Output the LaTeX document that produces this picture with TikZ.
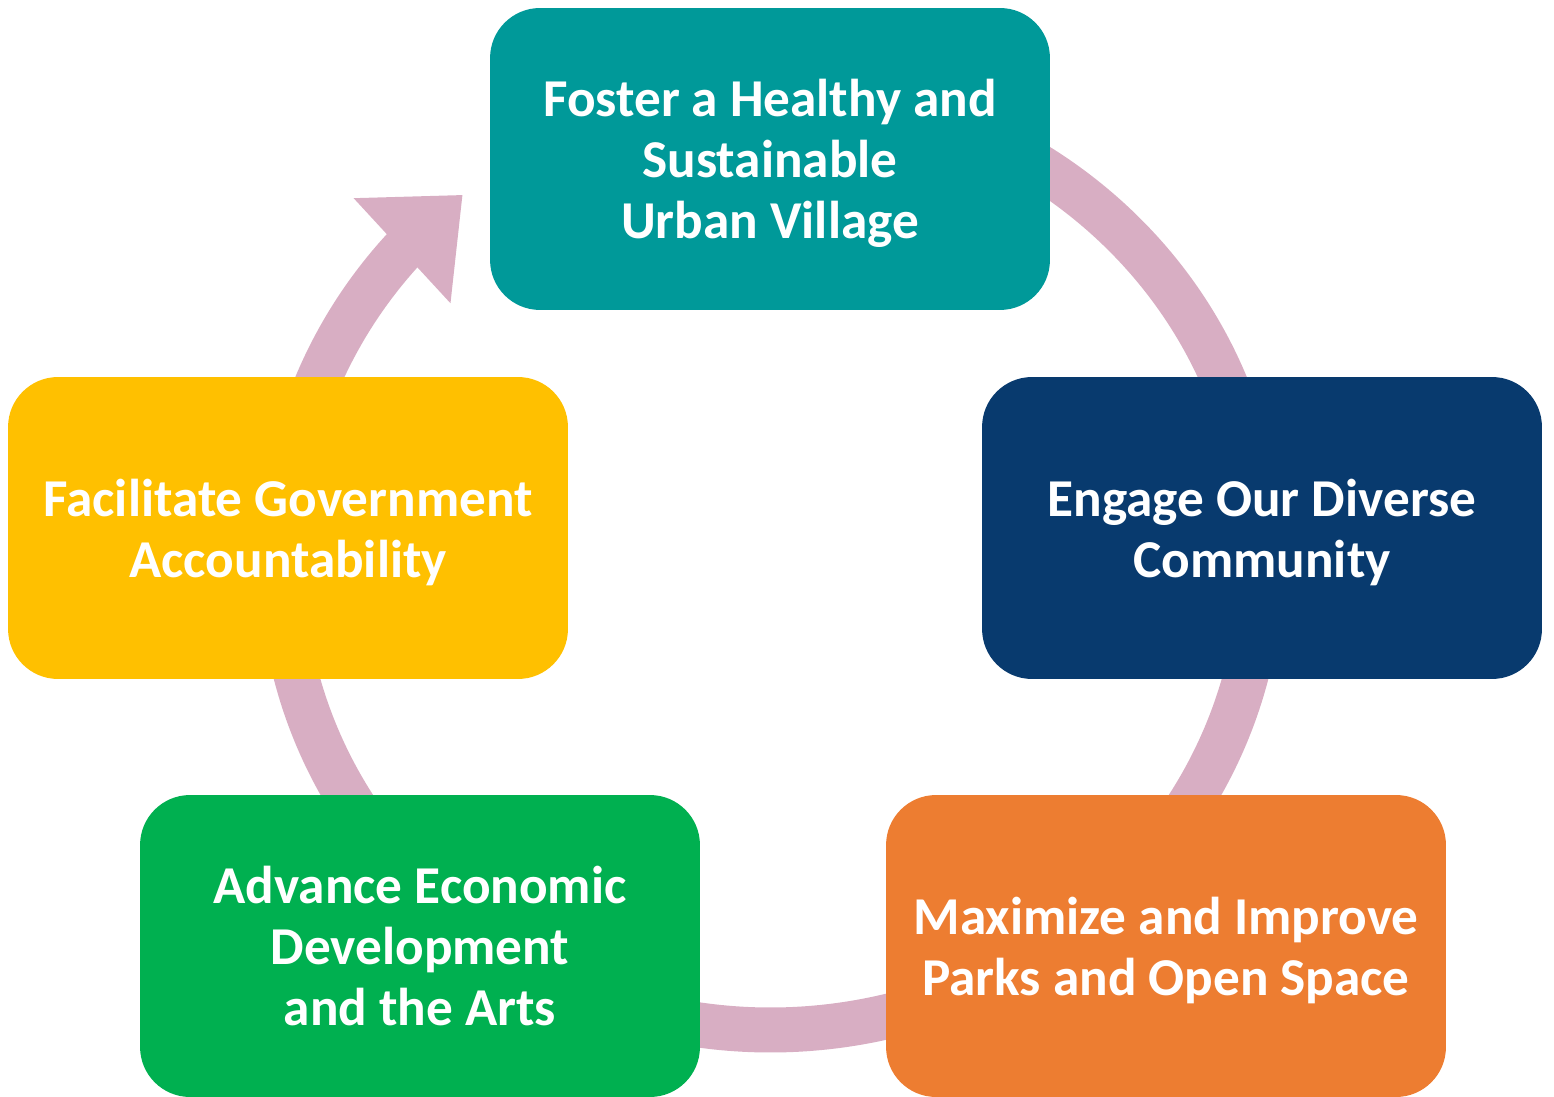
\documentclass[tikz,border=0pt]{standalone}
\usepackage{fontspec}
\setmainfont{Carlito}
\usetikzlibrary{arrows.meta,bending,positioning}
\definecolor{tealgoal}{HTML}{009999}
\definecolor{navygoal}{HTML}{083A6E}
\definecolor{orangegoal}{HTML}{ED7D31}
\definecolor{greengoal}{HTML}{00B050}
\definecolor{yellowgoal}{HTML}{FFC000}
\definecolor{ringcolor}{HTML}{D8AEC3}
\tikzset{
    goal/.style={
        shape=rectangle,
        draw=none,
        align=center,
        text=white,
        font=\bfseries\fontsize{30.3}{34.7}\selectfont,
        text depth=0pt,
        minimum width=11.2cm,
        minimum height=6.04cm,
        inner sep=0pt,
        rounded corners=1cm
    },
    flow/.style={
        draw=ringcolor,
        line width=0.9cm,
        -{Triangle[length=1.65cm, width=2.75cm, flex]}
    }
}

\begin{document}
\begin{tikzpicture}[x=0.02cm, y=-0.02cm]
    \useasboundingbox (0,0) rectangle (1554,1097);
    \coordinate (ctr) at (771,560);

    % ring behind the goals
    \draw[flow] 
    (ctr) ++(100:9.8cm and 9.4cm) 
    arc[start angle=100, end angle=-231, x radius=9.8cm, y radius=9.4cm];

    \node[goal, fill=tealgoal] (g1) at (770,159) {Foster a Healthy and\\Sustainable\\Urban Village};
    \node[goal, fill=navygoal] (g2) at (1262,528) {Engage Our Diverse\\Community};
    \node[goal, fill=orangegoal] (g3) at (1166,946) {Maximize and Improve\\Parks and Open Space};
    \node[goal, fill=greengoal] (g4) at (420,946) {Advance Economic\\Development\\and the Arts};
    \node[goal, fill=yellowgoal] (g5) at (288,528) {Facilitate Government\\Accountability};
\end{tikzpicture}
\end{document}
